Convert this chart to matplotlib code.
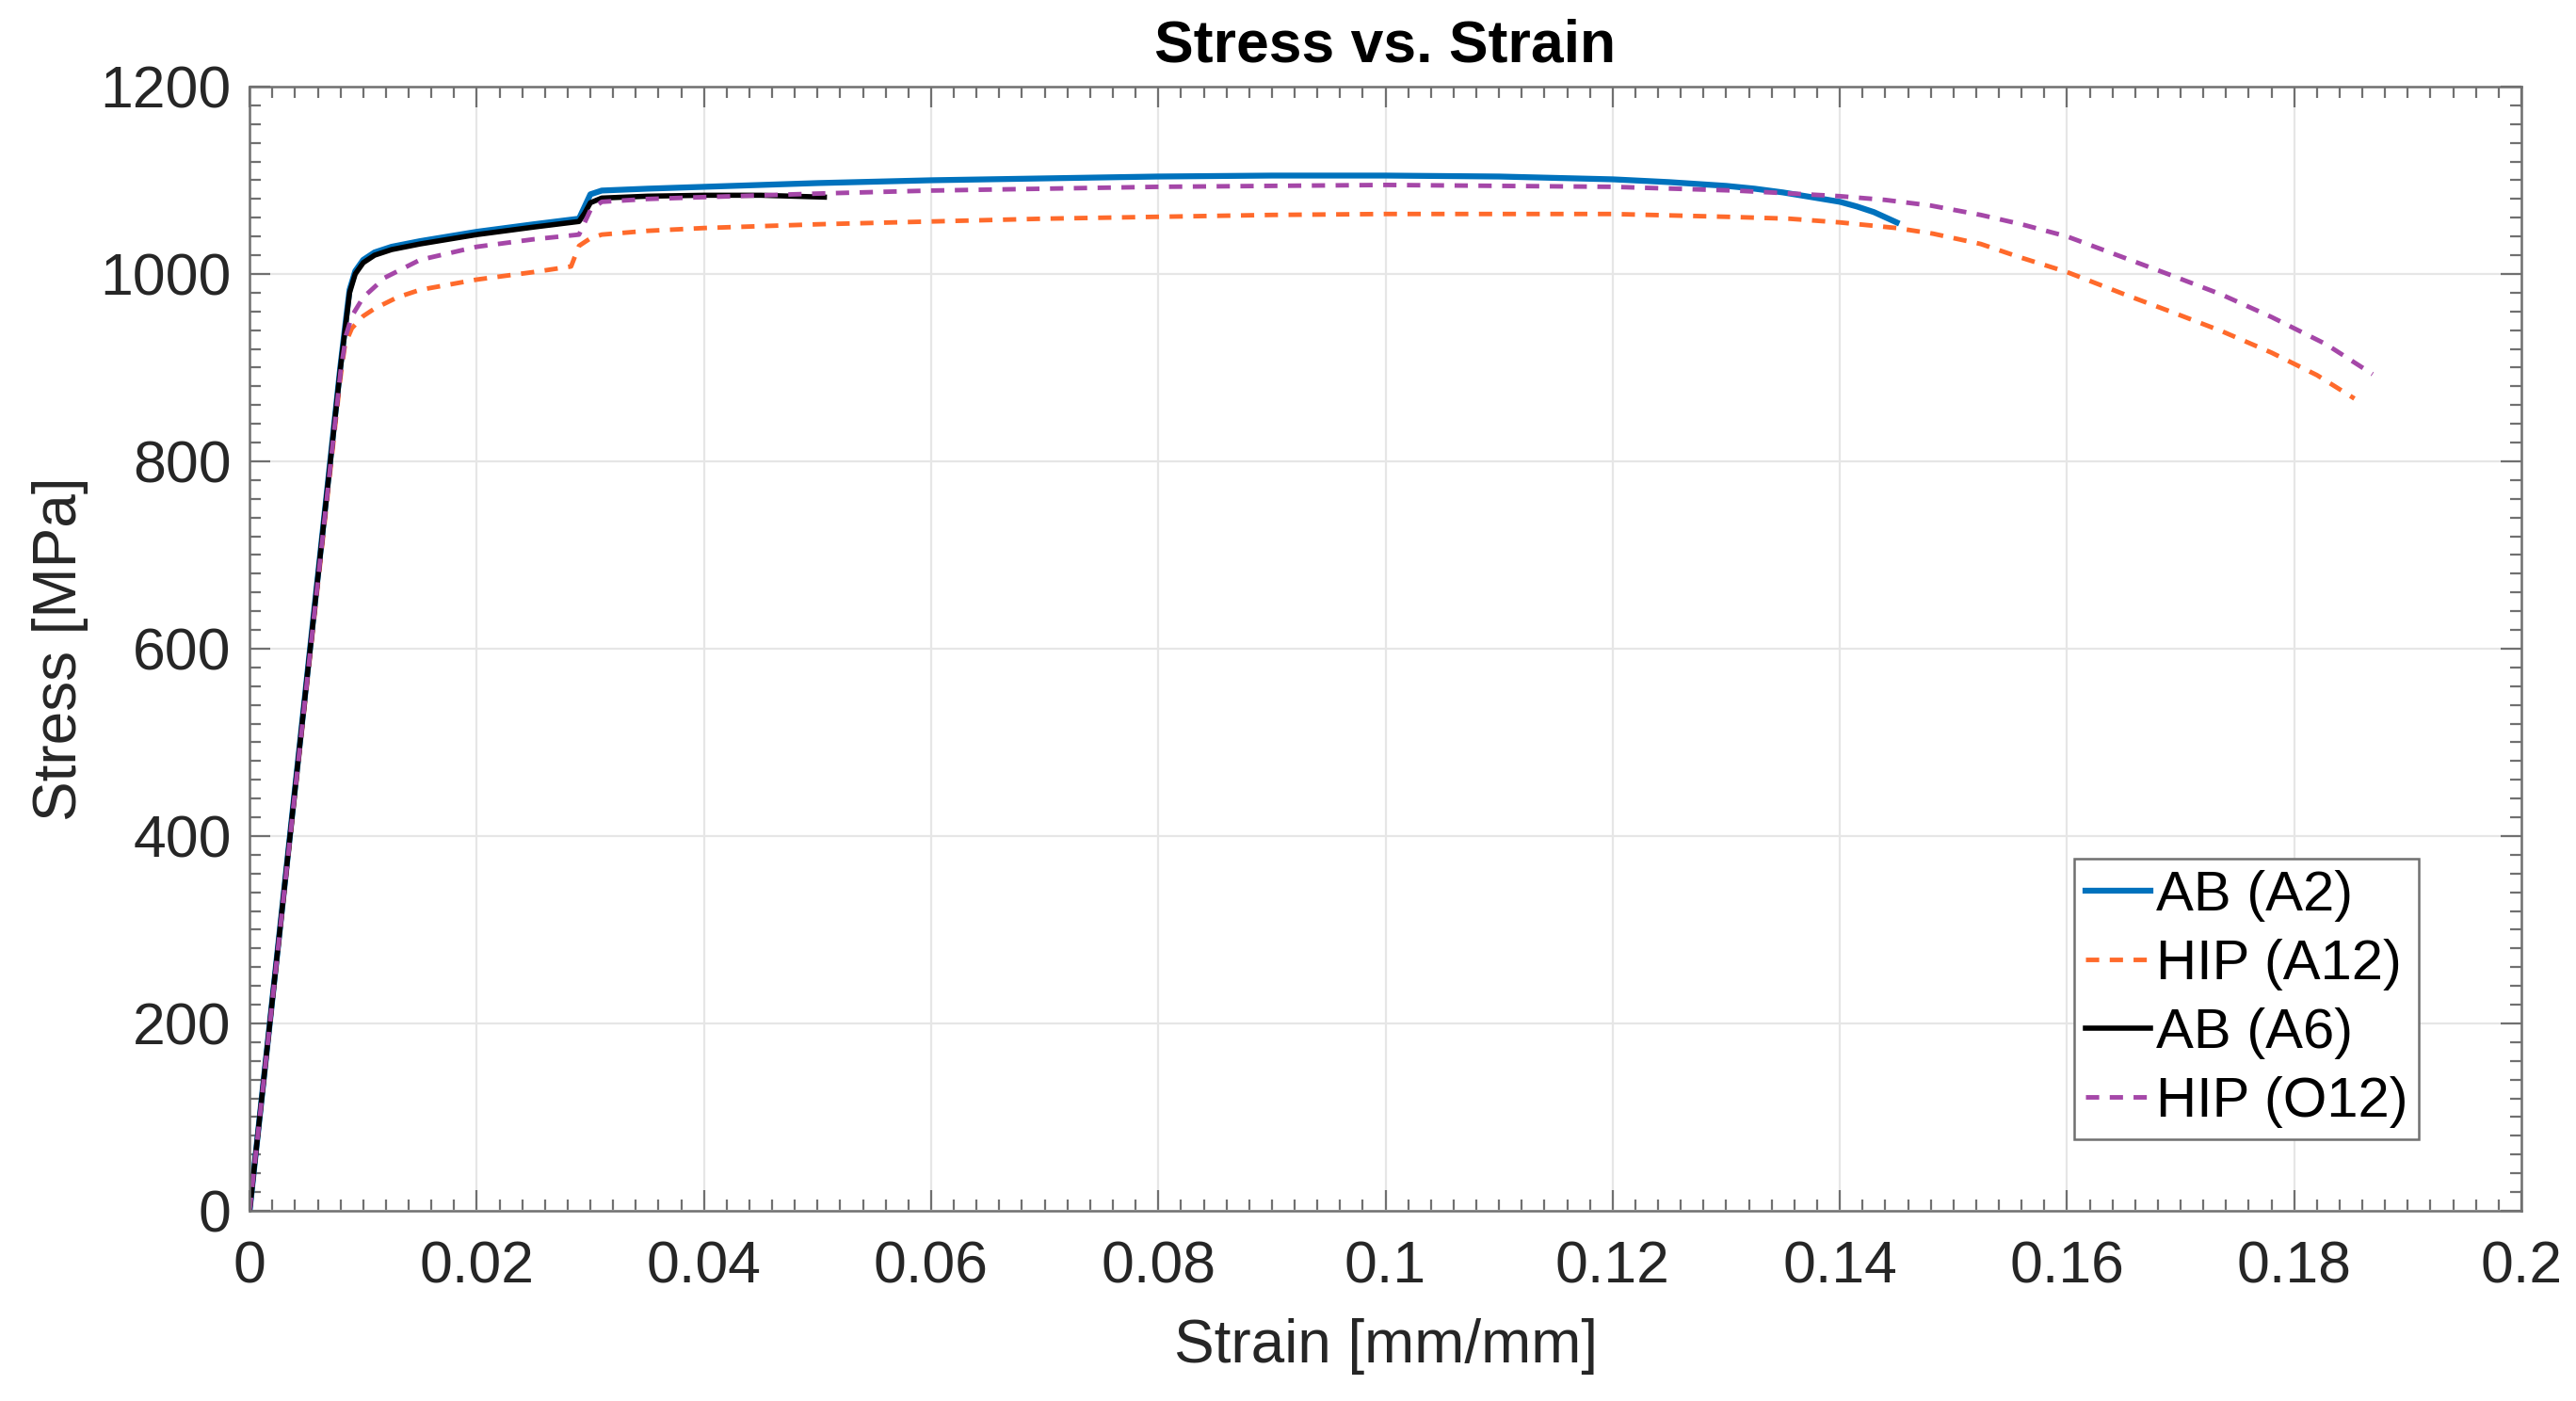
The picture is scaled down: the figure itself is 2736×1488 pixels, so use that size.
import numpy as np
import matplotlib
matplotlib.use('Agg')
import matplotlib.pyplot as plt
from matplotlib.ticker import MultipleLocator

plt.rcParams['font.family'] = ['Liberation Sans', 'DejaVu Sans']

# AB (A2)
strain_a2 = [0, 0.0080, 0.0085, 0.0088, 0.0093, 0.0100, 0.0110, 0.0125, 0.0150, 0.0200,
             0.0250, 0.0290, 0.0295, 0.0300, 0.0310, 0.0350, 0.0400, 0.0500, 0.0600, 0.0700,
             0.0800, 0.0900, 0.1000, 0.1100, 0.1200, 0.1250, 0.1300, 0.1325, 0.1350, 0.1375,
             0.1400, 0.1415, 0.1430, 0.1450]
stress_a2 = [0, 902, 953, 983, 1003, 1015, 1023, 1029, 1035, 1045,
             1053, 1059, 1072, 1085, 1089, 1091, 1093, 1097, 1100, 1102,
             1104, 1105, 1105, 1104, 1101, 1098, 1094, 1091, 1087, 1082,
             1077, 1072, 1066, 1055]

# HIP (A12)
strain_a12 = [0, 0.0080, 0.0084, 0.0090, 0.0100, 0.0110, 0.0130, 0.0150, 0.0200, 0.0250,
              0.0283, 0.0290, 0.0300, 0.0310, 0.0350, 0.0400, 0.0500, 0.0600, 0.0700, 0.0800,
              0.0900, 0.1000, 0.1100, 0.1200, 0.1300, 0.1355, 0.1400, 0.1450, 0.1482, 0.1524,
              0.1558, 0.1600, 0.1651, 0.1693, 0.1736, 0.1780, 0.1820, 0.1853]
stress_a12 = [0, 890, 925, 942, 955, 963, 975, 983, 994, 1002,
              1008, 1030, 1038, 1042, 1046, 1049, 1053, 1056, 1059, 1061,
              1063, 1064, 1064, 1064, 1061, 1059, 1055, 1049, 1043, 1032,
              1018, 1002, 978, 959, 939, 916, 892, 867]

# AB (A6)
strain_a6 = [0, 0.0080, 0.0085, 0.0088, 0.0093, 0.0100, 0.0110, 0.0125, 0.0150, 0.0200,
             0.0250, 0.0290, 0.0295, 0.0300, 0.0310, 0.0350, 0.0400, 0.0450, 0.0506]
stress_a6 = [0, 900, 950, 980, 1000, 1012, 1020, 1026, 1032, 1042,
             1050, 1056, 1065, 1076, 1081, 1083, 1084, 1084, 1082]

# HIP (O12)
strain_o12 = [0, 0.0080, 0.0085, 0.0090, 0.0100, 0.0119, 0.0150, 0.0200, 0.0250, 0.0290,
              0.0295, 0.0300, 0.0310, 0.0350, 0.0400, 0.0506, 0.0600, 0.0800, 0.1000, 0.1200,
              0.1308, 0.1355, 0.1400, 0.1440, 0.1480, 0.1524, 0.1560, 0.1600, 0.1651, 0.1693,
              0.1736, 0.1780, 0.1828, 0.1869]
stress_o12 = [0, 895, 935, 955, 975, 996, 1015, 1029, 1037, 1042,
              1055, 1068, 1077, 1080, 1082, 1086, 1089, 1093, 1095, 1093,
              1089, 1086, 1083, 1079, 1073, 1063, 1053, 1040, 1017, 998,
              978, 954, 925, 893]

labels = ['AB (A2)', 'HIP (A12)', 'AB (A6)', 'HIP (O12)']

fig = plt.figure(figsize=(27.36, 14.88), dpi=100)
ax = fig.add_axes([0.0969, 0.1358, 0.8819, 0.8024])

ax.plot(strain_a2, stress_a2, color='#0072BD', lw=4.5, label=labels[0])
ax.plot(strain_a12, stress_a12, color='#FF6A2B', lw=3.5, dashes=(2.9, 2.3), label=labels[1])
ax.plot(strain_a6, stress_a6, color='black', lw=4.0, label=labels[2])
ax.plot(strain_o12, stress_o12, color='#A547A8', lw=3.5, dashes=(2.9, 2.3), label=labels[3])

ax.set_xlim(0, 0.2)
ax.set_ylim(0, 1200)
ax.xaxis.set_minor_locator(MultipleLocator(0.002))
ax.yaxis.set_major_locator(MultipleLocator(200))
ax.yaxis.set_minor_locator(MultipleLocator(20))
ax.set_xticks(np.arange(0, 0.2001, 0.02))
ax.set_xticklabels(['0', '0.02', '0.04', '0.06', '0.08', '0.1', '0.12', '0.14', '0.16', '0.18', '0.2'])

ax.tick_params(which='both', direction='in', top=True, right=True, colors='#707070',
               labelcolor='#262626', width=1.6)
ax.tick_params(which='major', length=16, labelsize=45)
ax.tick_params(axis='x', which='major', pad=22)
ax.tick_params(axis='y', which='major', pad=14)
ax.tick_params(which='minor', length=8.5)
for s in ax.spines.values():
    s.set_color('#707070')
    s.set_linewidth(1.8)

ax.grid(True, which='major', color='#E6E6E6', lw=1.6)
ax.set_axisbelow(True)

ax.set_xlabel('Strain [mm/mm]', fontsize=46, color='#262626', labelpad=18)
ax.set_ylabel('Stress [MPa]', fontsize=46, color='#262626', labelpad=9)
ax.set_title('Stress vs. Strain', fontsize=45, fontweight='bold', pad=19)

leg = ax.legend(loc='lower right', bbox_to_anchor=(0.955, 0.064), borderaxespad=0,
                fontsize=43, fancybox=False, edgecolor='#707070', framealpha=1,
                handlelength=1.15, handletextpad=0.1, labelspacing=0.3, borderpad=0.2)
leg.get_frame().set_linewidth(1.8)

fig.savefig('out.png', dpi=100)
